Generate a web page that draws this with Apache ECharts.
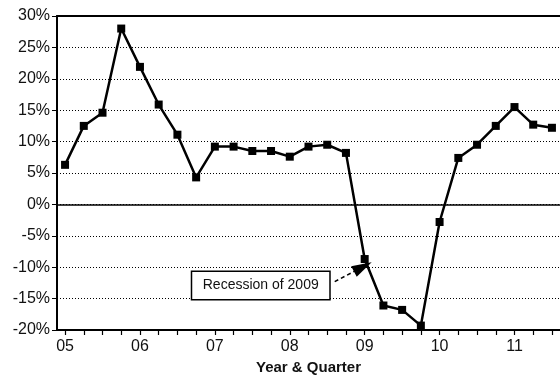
<!DOCTYPE html>
<html>
<head>
<meta charset="utf-8">
<script src="https://cdn.jsdelivr.net/npm/echarts@6/dist/echarts.min.js"></script>
<style>
  html, body { margin: 0; padding: 0; background: #fff; }
  #chart { width: 560px; height: 375px; }
</style>
</head>
<body>
<div id="chart"></div>
<script>
// Quarterly growth rate, Q1 2005 onward (percent)
const growth = [6.3, 12.5, 14.6, 28.0, 21.9, 15.9, 11.1, 4.3, 9.2, 9.2, 8.5, 8.5, 7.6, 9.2, 9.5, 8.2,
                -8.7, -16.1, -16.8, -19.3, -2.8, 7.4, 9.5, 12.5, 15.5, 12.7, 12.2];
// Year labels placed at each first quarter
const yearLabels = ['05', '06', '07', '08', '09', '10', '11'];
const quarterIndex = growth.map((_, i) => i);
const yearIndex = yearLabels.map((_, i) => i * 4);

// Annotation: text box and arrow pointing at the 2009 drop
const noteText = 'Recession of 2009';
const noteAt = [10.45, -12.9];
const arrowFrom = [14.4, -12.3];
const arrowTo = [15.9, -9.95];

const font = '"Liberation Sans", Arial, sans-serif';
const chart = echarts.init(document.getElementById('chart'));

chart.setOption({
  animation: false,
  backgroundColor: '#fff',
  grid: { left: 57, top: 16, right: 0, bottom: 45, containLabel: false, outerBoundsMode: 'none' },
  xAxis: [{
    type: 'value',
    min: -0.43,
    max: 26.43,
    name: 'Year & Quarter',
    nameLocation: 'middle',
    nameGap: 28,
    nameTextStyle: { fontFamily: font, fontSize: 15, fontWeight: 'bold', color: '#111' },
    axisLine: { show: true, onZero: false, lineStyle: { color: '#000', width: 2 } },
    axisTick: { show: true, customValues: quarterIndex, length: 5, lineStyle: { color: '#000', width: 1.2 } },
    axisLabel: {
      customValues: yearIndex,
      formatter: v => yearLabels[Math.round(v / 4)],
      fontFamily: font, fontSize: 16, color: '#111', margin: 9
    },
    splitLine: { show: false }
  }, {
    type: 'value',
    position: 'top',
    min: -0.43,
    max: 26.43,
    axisLine: { show: true, onZero: false, lineStyle: { color: '#000', width: 2 } },
    axisTick: { show: false },
    axisLabel: { show: false },
    splitLine: { show: false }
  }],
  yAxis: {
    type: 'value',
    min: -20,
    max: 30,
    interval: 5,
    axisLine: { show: true, onZero: false, lineStyle: { color: '#000', width: 2 } },
    axisTick: { show: true, length: 5, lineStyle: { color: '#000', width: 1 } },
    axisLabel: {
      formatter: v => v + '%',
      fontFamily: font, fontSize: 16, color: '#111', margin: 7
    },
    splitLine: { show: true, lineStyle: { color: '#000', width: 1, type: [1, 2] } }
  },
  series: [{
    type: 'line',
    data: growth.map((v, i) => [i, v]),
    symbol: 'rect',
    symbolSize: 8,
    lineStyle: { color: '#000', width: 2.5 },
    itemStyle: { color: '#000' },
    z: 5,
    markLine: {
      silent: true,
      symbol: 'none',
      label: { show: false },
      data: [
        { yAxis: 0, lineStyle: { color: '#000', width: 1.5, type: 'solid' } },
        [
          { coord: arrowFrom, symbol: 'none' },
          { coord: arrowTo, symbol: 'triangle', symbolSize: [12, 20] }
        ]
      ],
      lineStyle: { color: '#000', width: 1.5, type: [4, 3] }
    },
    markPoint: {
      silent: true,
      data: [{
        coord: noteAt,
        symbolSize: 0,
        label: {
          show: true,
          position: 'inside',
          formatter: noteText,
          fontFamily: font, fontSize: 14, color: '#111',
          backgroundColor: '#fff',
          borderColor: '#000',
          borderWidth: 1.5,
          width: 137,
          height: 27,
          lineHeight: 27,
          align: 'center',
          verticalAlign: 'middle'
        }
      }]
    }
  }]
});
</script>
</body>
</html>
